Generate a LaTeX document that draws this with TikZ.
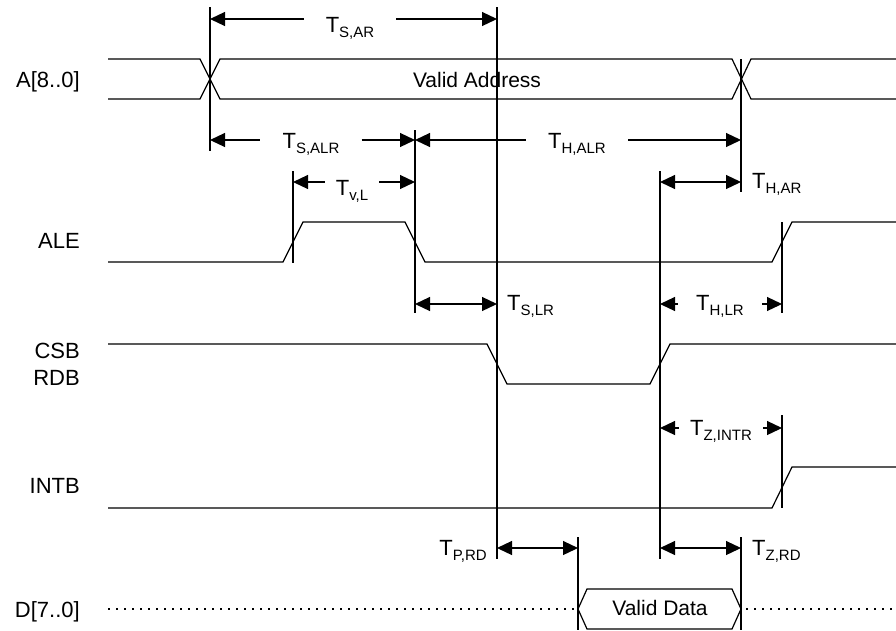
\documentclass[tikz,border=0pt]{standalone}
\usepackage{fontspec}
\setmainfont{Liberation Sans}
\usetikzlibrary{arrows.meta}
\newcommand{\tsub}[1]{T\raisebox{-5pt}{\fontsize{15}{15}\selectfont #1}}
\tikzset{ % Setup for the timing diagram
sig/.style={line width=1.2pt},
guide/.style={line width=1.2pt},
dim/.style={line width=1.2pt, >={Triangle[length=15pt,width=14pt]}},
tlab/.style={anchor=base, inner ysep=0pt, inner xsep=22pt, font=\fontsize{22}{26}\selectfont},
tside/.style={inner sep=0pt, font=\fontsize{22}{26}\selectfont},
siglab/.style={anchor=base east, inner sep=0pt, font=\fontsize{22}{26}\selectfont},
validlab/.style={anchor=base, inner sep=0pt, font=\fontsize{21}{25}\selectfont},
}

\begin{document}
\begin{tikzpicture}[x=1pt, y=-1pt]
    \useasboundingbox (0,0) rectangle (896,630);
    % time marks
    \coordinate (tA) at (210,0);
    \coordinate (tL) at (293,0);
    \coordinate (tF) at (415,0);
    \coordinate (tR) at (497,0);
    \coordinate (tD) at (578,0);
    \coordinate (tE) at (660,0);
    \coordinate (tH) at (741,0);
    \coordinate (tI) at (782,0);
    % signal names
    \node [siglab] (addr) at (80,87) {A[8..0]};
    \node [siglab] (ale) at (80,248) {ALE};
    \node [siglab] (csb) at (80,358) {CSB};
    \node [siglab] (rdb) at (80,385) {RDB};
    \node [siglab] (intb) at (80,493) {INTB};
    \node [siglab] (data) at (80,617) {D[7..0]};
    % waveforms
    \draw [sig] (108,59) -- (200,59) -- (220,99) -- (732,99) -- (751,59) -- (896,59);
    \draw [sig] (108,99) -- (200,99) -- (220,59) -- (732,59) -- (751,99) -- (896,99);
    \node [validlab] (va) at (477,87) {Valid Address};
    \draw [sig] (108,262) -- (283,262) -- (303,222) -- (405,222) -- (425,262) -- (772,262) -- (792,222) -- (896,222);
    \draw [sig] (108,344) -- (487,344) -- (507,384) -- (650,384) -- (670,344) -- (896,344);
    \draw [sig] (108,508) -- (772,508) -- (792,467) -- (896,467);
    \draw [sig, dash pattern=on 1.5pt off 6.5pt] (108,609) -- (574,609);
    \draw [sig, dash pattern=on 1.5pt off 6.5pt] (746,609) -- (896,609);
    \draw [sig] (578,609) -- (587,589) -- (732,589) -- (741,609) -- (732,629) -- (587,629) -- cycle;
    \node [validlab] (vd) at (660,615) {Valid Data};
    % guide lines
    \foreach \t/\ya/\yb in {tA/7/151, tR/7/559, tF/130/313, tL/171/263, tH/59/192,
        tE/171/559, tI/222/313, tI/415/508, tD/537/630, tH/537/630}
        \draw [guide] (\t |- 0,\ya) -- (\t |- 0,\yb);
    % timing parameters
    \node [tlab] (sar) at (350,32) {\tsub{S,AR}};
    \draw [dim,<-] (tA |- 0,19) -- (sar.west |- 0,19);
    \draw [dim,->] (sar.east |- 0,19) -- (tR |- 0,19);
    \node [tlab] (salr) at (311,148) {\tsub{S,ALR}};
    \draw [dim,<-] (tA |- 0,140) -- (salr.west |- 0,140);
    \draw [dim,->] (salr.east |- 0,140) -- (tF |- 0,140);
    \node [tlab] (halr) at (577,148) {\tsub{H,ALR}};
    \draw [dim,<-] (tF |- 0,140) -- (halr.west |- 0,140);
    \draw [dim,->] (halr.east |- 0,140) -- (tH |- 0,140);
    \node [tlab, inner xsep=11pt] (vl) at (352,195) {\tsub{v,L}};
    \draw [dim,<-] (tL |- 0,182) -- (vl.west |- 0,182);
    \draw [dim,->] (vl.east |- 0,182) -- (tF |- 0,182);
    \draw [dim,<->] (tE |- 0,182) -- (tH |- 0,182);
    \node [tside, anchor=base west] (har) at (752,188) {\tsub{H,AR}};
    \draw [dim,<->] (tF |- 0,304) -- (tR |- 0,304);
    \node [tside, anchor=base west] (slr) at (507,310) {\tsub{S,LR}};
    \node [tlab, inner xsep=18pt] (hlr) at (720,310) {\tsub{H,LR}};
    \draw [dim,<-] (tE |- 0,304) -- (hlr.west |- 0,304);
    \draw [dim,->] (hlr.east |- 0,304) -- (tI |- 0,304);
    \node [tlab, inner xsep=11pt] (zintr) at (721,435) {\tsub{Z,INTR}};
    \draw [dim,<-] (tE |- 0,428) -- (zintr.west |- 0,428);
    \draw [dim,->] (zintr.east |- 0,428) -- (tI |- 0,428);
    \draw [dim,<->] (tR |- 0,548) -- (tD |- 0,548);
    \node [tside, anchor=base east] (prd) at (487,555) {\tsub{P,RD}};
    \draw [dim,<->] (tE |- 0,548) -- (tH |- 0,548);
    \node [tside, anchor=base west] (zrd) at (752,555) {\tsub{Z,RD}};
\end{tikzpicture}
\end{document}
